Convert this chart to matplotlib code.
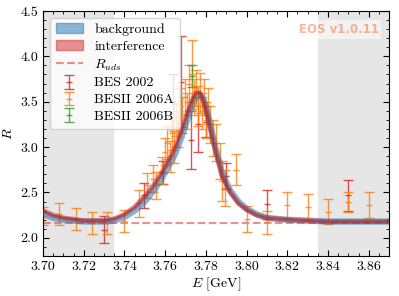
import numpy as np
import matplotlib
matplotlib.use("Agg")
import matplotlib.pyplot as plt
from matplotlib.patches import Patch
from matplotlib.lines import Line2D
from matplotlib.ticker import MultipleLocator

plt.rcParams['font.family'] = 'serif'
plt.rcParams['font.serif'] = ['cmr10', 'DejaVu Serif']
plt.rcParams['mathtext.fontset'] = 'cm'
plt.rcParams['axes.formatter.use_mathtext'] = True
plt.rcParams['font.size'] = 10

# theory curves
E_curve = [3.700, 3.705, 3.710, 3.720, 3.730, 3.735, 3.740, 3.745, 3.750, 3.755,
           3.760, 3.765, 3.768, 3.771, 3.773, 3.775, 3.777, 3.779, 3.781, 3.784,
           3.788, 3.792, 3.796, 3.800, 3.805, 3.810, 3.820, 3.830, 3.840, 3.850, 3.870]
R_interference = [2.30, 2.25, 2.22, 2.19, 2.19, 2.21, 2.26, 2.34, 2.46, 2.60,
                  2.78, 3.00, 3.18, 3.38, 3.51, 3.60, 3.60, 3.50, 3.32, 3.02,
                  2.68, 2.50, 2.38, 2.31, 2.25, 2.22, 2.20, 2.19, 2.18, 2.18, 2.18]
R_background = [2.26, 2.22, 2.20, 2.18, 2.18, 2.19, 2.23, 2.30, 2.40, 2.54,
                2.72, 2.93, 3.11, 3.31, 3.45, 3.55, 3.58, 3.52, 3.36, 3.06,
                2.71, 2.52, 2.40, 2.32, 2.26, 2.22, 2.20, 2.19, 2.18, 2.18, 2.18]
R_uds = 2.166

# BES 2002
bes02_E = [3.730, 3.7495, 3.759, 3.764, 3.768, 3.7725, 3.776, 3.780, 3.790, 3.810, 3.850]
bes02_R = [2.09, 2.47, 2.72, 3.50, 3.72, 3.08, 3.25, 3.28, 2.68, 2.37, 2.47]
bes02_err = [0.15, 0.14, 0.13, 0.30, 0.50, 0.32, 0.30, 0.17, 0.14, 0.16, 0.17]

# BESII 2006A
bes06a_E = [3.700, 3.708, 3.716, 3.724, 3.7315, 3.740, 3.747, 3.7513, 3.7538, 3.7557,
            3.7583, 3.7600, 3.7610, 3.7625, 3.7635, 3.7645, 3.7655, 3.7665, 3.7675, 3.7685,
            3.7695, 3.7705, 3.7715, 3.7730, 3.7740, 3.7750, 3.7760, 3.7770, 3.7780, 3.7790,
            3.7800, 3.7810, 3.7820, 3.7835, 3.7850, 3.7870, 3.7880, 3.7895, 3.7950, 3.8000,
            3.8100, 3.8200, 3.8300, 3.8400, 3.8500, 3.8600]
bes06a_R = [2.24, 2.26, 2.21, 2.16, 2.16, 2.19, 2.38, 2.58, 2.65, 2.58,
            2.74, 2.95, 3.05, 2.90, 3.15, 3.00, 3.30, 3.20, 3.45, 3.35,
            3.55, 3.40, 3.70, 3.80, 3.55, 3.65, 3.45, 3.60, 3.40, 3.55,
            3.30, 3.45, 3.25, 3.10, 3.05, 2.85, 2.63, 2.55, 2.75, 2.21,
            2.17, 2.36, 2.34, 2.29, 2.39, 2.36]
bes06a_err = [0.10, 0.12, 0.12, 0.12, 0.12, 0.12, 0.15, 0.14, 0.15, 0.15,
              0.15, 0.15, 0.18, 0.17, 0.18, 0.18, 0.18, 0.20, 0.20, 0.20,
              0.20, 0.20, 0.20, 0.38, 0.20, 0.20, 0.22, 0.22, 0.20, 0.20,
              0.20, 0.20, 0.20, 0.20, 0.20, 0.20, 0.22, 0.20, 0.17, 0.14,
              0.13, 0.14, 0.14, 0.14, 0.11, 0.14]

# BESII 2006B
bes06b_E = [3.773]
bes06b_R = [3.78]
bes06b_err = [0.12]

fig = plt.figure(figsize=(3.99, 2.96), dpi=100)
ax = fig.add_axes([0.108, 0.135, 0.867, 0.828])

ax.axvspan(3.70, 3.735, color='#e6e6e6', zorder=0, lw=0)
ax.axvspan(3.835, 3.87, color='#e6e6e6', zorder=0, lw=0)

ax.axhline(R_uds, color='tab:red', alpha=0.5, ls='--', lw=1.5, zorder=1)

ebkw = dict(fmt='_', ms=5, capsize=3.5, elinewidth=1, capthick=1, alpha=0.8, zorder=2)
ax.errorbar(bes02_E, bes02_R, yerr=bes02_err, color='tab:red', **ebkw)
ax.errorbar(bes06a_E, bes06a_R, yerr=bes06a_err, color='tab:orange', **ebkw)
ax.errorbar(bes06b_E, bes06b_R, yerr=bes06b_err, color='tab:green', **ebkw)

ax.plot(E_curve, R_background, color='tab:blue', alpha=0.55, lw=4.5, zorder=3,
        solid_capstyle='butt')
ax.plot(E_curve, R_interference, color='tab:red', alpha=0.55, lw=3.5, zorder=4,
        solid_capstyle='butt')
ax.plot(E_curve, R_interference, color='#6b2030', alpha=0.35, lw=1.5, zorder=5)

ax.set_xlim(3.70, 3.87)
ax.set_ylim(1.8, 4.5)
ax.xaxis.set_major_locator(MultipleLocator(0.02))
ax.xaxis.set_minor_locator(MultipleLocator(0.005))
ax.yaxis.set_major_locator(MultipleLocator(0.5))
ax.yaxis.set_minor_locator(MultipleLocator(0.1))
ax.tick_params(which='both', direction='in', top=True, right=True)
ax.tick_params(which='major', length=4)
ax.tick_params(which='minor', length=2)
ax.set_xticks([3.70, 3.72, 3.74, 3.76, 3.78, 3.80, 3.82, 3.84, 3.86])
ax.set_xticklabels(['3.70', '3.72', '3.74', '3.76', '3.78', '3.80', '3.82', '3.84', '3.86'])
ax.set_yticks([2.0, 2.5, 3.0, 3.5, 4.0, 4.5])
ax.set_yticklabels(['2.0', '2.5', '3.0', '3.5', '4.0', '4.5'])

ax.set_xlabel(r'$E$ [GeV]', labelpad=2)
ax.set_ylabel(r'$R$', labelpad=4)

handles = [
    Patch(color='tab:blue', alpha=0.5),
    Patch(color='tab:red', alpha=0.5),
    Line2D([], [], color='tab:red', alpha=0.5, ls='--', lw=1.5),
    ax.containers[0], ax.containers[1], ax.containers[2],
]
labels = ['background', 'interference', r'$R_{uds}$', 'BES 2002', 'BESII 2006A', 'BESII 2006B']
ax.legend(handles, labels, loc='upper left', frameon=True, fontsize=10,
          handlelength=2.0, borderpad=0.4, labelspacing=0.3)

ax.text(0.97, 0.95, 'EOS v1.0.11', transform=ax.transAxes, ha='right', va='top',
        family='DejaVu Sans', fontweight='bold', fontsize=8.5, color='OrangeRed', alpha=0.4,
        bbox=dict(facecolor='white', edgecolor='none', alpha=0.5, pad=2))

fig.savefig('out.png', dpi=100)
